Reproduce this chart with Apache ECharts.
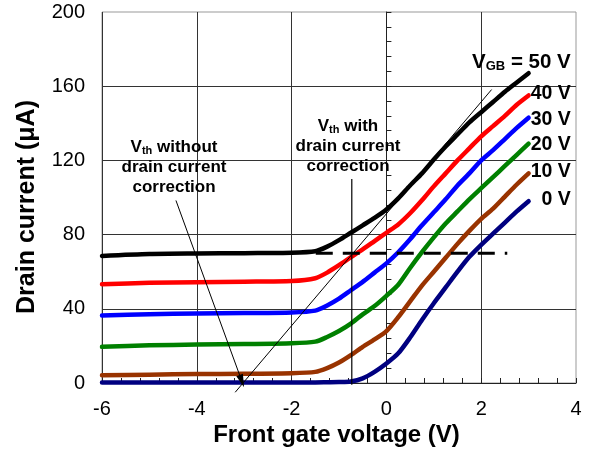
<!DOCTYPE html>
<html><head><meta charset="utf-8">
<script src="https://cdn.jsdelivr.net/npm/echarts@6/dist/echarts.min.js"></script>
<style>html,body{margin:0;padding:0;background:#fff}#c{width:601px;height:457px}</style>
</head><body><div id="c"></div>
<script>
// ---- data ----
const gateV = [-6,-5,-4,-3,-2,-1.5,-1.25,-1,-0.75,-0.5,-0.25,0,0.25,0.5,0.75,1,1.25,1.5,1.75,2,2.25,2.5,2.75,3];
const id50 = [68.5,69.5,69.8,70,70.2,71,73.5,77,81,85,89,93.5,99.5,106.5,113,120.5,127.5,134,140.5,146,151.5,157,162,167];
const id40 = [53.3,54,54.3,54.6,55,56.5,59.5,63.5,67.8,72,76.5,81,85.5,91.5,98.5,106,113,120,126.5,133,138.5,144,150,155];
const id30 = [36.4,37,37.5,37.7,38,39,41.8,45.5,50,54.5,59.5,64.5,70.5,77.5,85,92,99,106.5,113,120,125.5,131.5,137.5,143];
const id20 = [19.5,20.3,20.7,21,21.4,22.3,24.8,28,32,37,41.5,47,53,62,70.5,78.5,86,92.5,99,105,111,117,123,129];
const id10 = [4.2,4.5,4.8,5,5.3,6,8,11,15,19.5,23.5,28,35.5,44,52.5,60,67.5,75,82,88.5,94,100.5,107,113];
const id0  = [0.3,0.3,0.3,0.3,0.3,0.3,0.4,0.5,0.8,2.5,6,10.5,16,24.5,34,43,51.5,60,68,74.5,80.5,86.5,92.5,98];
const seriesNames = ['50 V','40 V','30 V','20 V','10 V','0 V'];
const xTicks = [-6,-4,-2,0,2,4];
const yTicks = [0,40,80,120,160,200];
const dashLevel = 70;
const dashX = [-1.49, 2.55];
const tangentLine = [[-3.19,-5],[2.22,158.2]];
const vthLine = [[-0.73,-1],[-0.73,110]];
const arrowLine = [[-4.44,98.4],[-3.05,1]];
const labelX = 3.89;
const labelY = [172.9,155.8,142,128.7,114.2,98.9];

const FONT = '"Liberation Sans", Arial, sans-serif';
const colors = ['#000000','#ff0000','#0000ff','#008000','#993300','#000080'];
const curves = [id50,id40,id30,id20,id10,id0];

const chart = echarts.init(document.getElementById('c'), null, {renderer:'canvas'});

const series = curves.map((ys,i)=>({
  type:'line', name:seriesNames[i], data: gateV.map((x,j)=>[x, ys[j]]),
  symbol:'none', smooth:0.25, lineStyle:{color:colors[i], width:4.5, join:'round', cap:'round'}, z:3, animation:false
}));
series.push({type:'line', data: dashX.map(x=>[x,dashLevel]), symbol:'none',
  lineStyle:{color:'#000', width:3, type:[17,10]}, z:6, animation:false});
series.push({type:'line', data: tangentLine, symbol:'none', clip:false,
  lineStyle:{color:'#000', width:1}, z:7, animation:false});
series.push({type:'line', data: vthLine, symbol:'none', clip:false,
  lineStyle:{color:'#000', width:1.2}, z:7, animation:false});
series.push({type:'line', data: [], symbol:'none', z:7, animation:false,
  markLine:{silent:true, animation:false, symbol:['none','triangle'], symbolSize:[1,1], label:{show:false},
    lineStyle:{color:'#000', width:1, type:'solid'},
    data:[[{coord:arrowLine[0], symbol:'none'},{coord:arrowLine[1], symbol:'triangle', symbolSize:[7,13]}]]}});

const axisCommon = {
  axisLine:{show:true, lineStyle:{color:'#222', width:1}},
  axisTick:{show:true, inside:true, length:5, lineStyle:{color:'#222'}},
  minorTick:{show:true, splitNumber:5, length:5, lineStyle:{color:'#222'}},
  splitLine:{show:true, showMaxLine:false, lineStyle:{color:'#333', width:1}}
};

chart.setOption({
  animation:false,
  grid:{left:102, right:25, top:12, bottom:74, show:true, borderColor:'#999', borderWidth:1, containLabel:false},
  xAxis:Object.assign({type:'value', min:xTicks[0], max:xTicks[xTicks.length-1], interval:2,
    axisLabel:{color:'#000', fontSize:20, fontFamily:FONT, margin:16}}, axisCommon),
  yAxis:Object.assign({type:'value', min:yTicks[0], max:yTicks[yTicks.length-1], interval:40,
    axisLabel:{color:'#000', fontSize:20, fontFamily:FONT, margin:17}}, axisCommon),
  series: series
});

const bold = (size)=>({fontSize:size, fontWeight:'bold', fontFamily:FONT, fill:'#000', lineHeight:20});
const richAnno = {
  b: bold(17),
  s: {fontSize:11, fontWeight:'bold', fontFamily:FONT, fill:'#000', padding:[7,0,0,0], lineHeight:20}
};
const graphics = [];
graphics.push({type:'text', x:174, y:167.5, z:20, style:{
  text:'{b|V}{s|th}{b| without}\n{b|drain current}\n{b|correction}',
  rich:richAnno, align:'center', verticalAlign:'middle'}});
graphics.push({type:'text', x:348, y:146.5, z:20, style:{
  text:'{b|V}{s|th}{b| with}\n{b|drain current}\n{b|correction}',
  rich:richAnno, align:'center', verticalAlign:'middle'}});
labelY.forEach((yv,i)=>{
  const p = chart.convertToPixel({gridIndex:0},[labelX,yv]);
  const txt = i===0 ? '{b|V}{s|GB}{b| = 50 V}' : '{b|'+seriesNames[i]+'}';
  graphics.push({type:'text', x:p[0], y:p[1], z:20, style:{
    text:txt, align:'right', verticalAlign:'middle',
    rich:{
      b:{fontSize: i===0?20.5:19.5, fontWeight:'bold', fontFamily:FONT, fill:'#000', lineHeight:22},
      s:{fontSize:13, fontWeight:'bold', fontFamily:FONT, fill:'#000', padding:[8,0,0,0], lineHeight:22}
    }}});
});
graphics.push({type:'text', x:336.5, y:435, z:20, style:{
  text:'Front gate voltage (V)', fontSize:24, fontWeight:'bold', fontFamily:FONT, fill:'#000',
  align:'center', verticalAlign:'middle'}});
graphics.push({type:'text', x:27, y:207, rotation:Math.PI/2, z:20, style:{
  text:'Drain current (μA)', fontSize:25, fontWeight:'bold', fontFamily:FONT, fill:'#000',
  align:'center', verticalAlign:'middle'}});
chart.setOption({graphic:graphics});
</script></body></html>
